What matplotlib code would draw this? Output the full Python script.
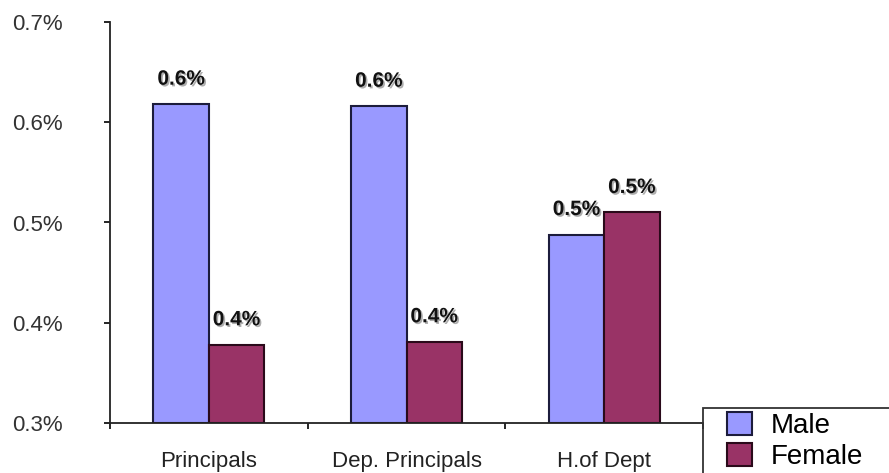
import matplotlib
matplotlib.use("Agg")
import matplotlib.pyplot as plt
import matplotlib.patheffects as pe
from matplotlib.patches import Rectangle
import numpy as np

plt.rcParams['font.family'] = ['Liberation Sans', 'DejaVu Sans']

categories = ["Principals", "Dep. Principals", "H.of Dept"]
male = [0.618, 0.616, 0.488]
female = [0.378, 0.381, 0.510]
male_labels = ["0.6%", "0.6%", "0.5%"]
female_labels = ["0.4%", "0.4%", "0.5%"]
yticks = [0.3, 0.4, 0.5, 0.6, 0.7]
ytick_labels = ["0.3%", "0.4%", "0.5%", "0.6%", "0.7%"]

W, H = 889, 473
fig = plt.figure(figsize=(W / 100, H / 100), dpi=100)
ax = fig.add_axes([110 / W, 1 - 423 / H, (703 - 110) / W, (423 - 22) / H])

x = np.arange(len(categories))
bw = 0.28
b1 = ax.bar(x - bw / 2, np.array(male) - 0.3, bw, bottom=0.3, color="#9999FF",
            edgecolor="#1c1c3c", linewidth=1.5, label="Male")
b2 = ax.bar(x + bw / 2, np.array(female) - 0.3, bw, bottom=0.3, color="#993366",
            edgecolor="#2a0a1a", linewidth=1.5, label="Female")

shadow = [pe.withSimplePatchShadow(offset=(1.2, -1.2), shadow_rgbFace="#777777", alpha=0.6)]
for xi, v, lab in zip(x - bw / 2, male, male_labels):
    ax.annotate(lab, (xi, v), xytext=(0, 18), textcoords="offset points",
                ha="center", va="center", fontsize=15, fontweight="bold",
                color="#111111", path_effects=shadow)
for xi, v, lab in zip(x + bw / 2, female, female_labels):
    ax.annotate(lab, (xi, v), xytext=(0, 18), textcoords="offset points",
                ha="center", va="center", fontsize=15, fontweight="bold",
                color="#111111", path_effects=shadow)

ax.set_xlim(-0.5, len(categories) - 0.5)
ax.set_ylim(0.3, 0.7)
ax.set_yticks(yticks)
ax.set_yticklabels(ytick_labels)
ax.set_xticks(x)
ax.set_xticklabels(categories)
ax.set_xticks(np.arange(len(categories) + 1) - 0.5, minor=True)
ax.tick_params(axis="x", which="major", length=0, pad=20, labelsize=16, labelcolor="#222222")
ax.tick_params(axis="x", which="minor", length=4, width=1.2, direction="out")
ax.tick_params(axis="y", length=4, width=1.2, direction="out", pad=30, labelsize=16, labelcolor="#333333")

for s in ["top", "right"]:
    ax.spines[s].set_visible(False)
ax.spines["left"].set_linewidth(1.3)
ax.spines["bottom"].set_linewidth(1.3)
ax.spines["left"].set_color("#222222")
ax.spines["bottom"].set_color("#222222")

# legend frame (extends beyond the figure edge)
fig.patches.append(Rectangle((703 / W, -0.05), 0.3, (1 - 408 / H) + 0.05,
                             transform=fig.transFigure, fill=False,
                             edgecolor="#333333", linewidth=1.3))
fig.legend(handles=[b1, b2], labels=["Male", "Female"], loc="upper left",
           bbox_to_anchor=(724 / W, 1 - 409 / H), frameon=False, fontsize=20,
           handlelength=0.87, handleheight=0.87, handletextpad=0.7,
           labelspacing=0.15, borderpad=0.12, borderaxespad=0)

fig.savefig("out.png", dpi=100)
